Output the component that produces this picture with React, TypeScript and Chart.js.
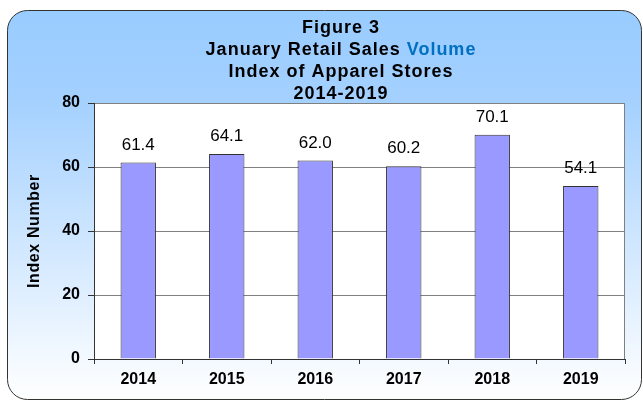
import React, { useEffect, useRef } from "react";
import { Chart, registerables } from "chart.js";

Chart.register(...registerables);

const categories = ["2014", "2015", "2016", "2017", "2018", "2019"];
const values = [61.4, 64.1, 62.0, 60.2, 70.1, 54.1];
const yMin = 0;
const yMax = 80;
const yStep = 20;
const yAxisTitle = "Index Number";
const titleLines: [string, string][][] = [
  [["Figure 3", "#000000"]],
  [["January Retail Sales ", "#000000"], ["Volume", "#0070C0"]],
  [["Index of Apparel Stores", "#000000"]],
  [["2014-2019", "#000000"]],
];

const FONT = "Arial, 'Liberation Sans', sans-serif";
const W = 643;
const H = 402;

const bgPlugin = {
  id: "bgPlugin",
  beforeDraw(chart: any) {
    const ctx = chart.ctx;
    const ca = chart.chartArea;
    ctx.save();
    const x0 = 7.5, y0 = 10.5, x1 = 641.5, y1 = 399.5, r = 20;
    const g = ctx.createLinearGradient(0, y0, 0, y1);
    g.addColorStop(0, "#99CCFF");
    g.addColorStop(0.22, "#A3D0FF");
    g.addColorStop(1, "#FFFFFF");
    ctx.beginPath();
    ctx.moveTo(x0 + r, y0);
    ctx.lineTo(x1 - r, y0);
    ctx.arcTo(x1, y0, x1, y0 + r, r);
    ctx.lineTo(x1, y1 - r);
    ctx.arcTo(x1, y1, x1 - r, y1, r);
    ctx.lineTo(x0 + r, y1);
    ctx.arcTo(x0, y1, x0, y1 - r, r);
    ctx.lineTo(x0, y0 + r);
    ctx.arcTo(x0, y0, x0 + r, y0, r);
    ctx.closePath();
    ctx.fillStyle = g;
    ctx.fill();
    ctx.lineWidth = 1;
    ctx.strokeStyle = "#333333";
    ctx.stroke();
    ctx.fillStyle = "#FFFFFF";
    ctx.fillRect(ca.left, ca.top, ca.right - ca.left, ca.bottom - ca.top);
    ctx.strokeStyle = "#808080";
    ctx.strokeRect(Math.round(ca.left) + 0.5, Math.round(ca.top) + 0.5, Math.round(ca.right - ca.left) - 1, Math.round(ca.bottom - ca.top));
    ctx.restore();
  },
  afterDraw(chart: any) {
    const ctx = chart.ctx;
    const ca = chart.chartArea;
    ctx.save();
    // title
    ctx.font = `bold 18px ${FONT}`;
    (ctx as any).letterSpacing = "1px";
    ctx.textBaseline = "middle";
    ctx.textAlign = "left";
    const cx = 341;
    const ys = [28, 50, 72, 94];
    titleLines.forEach((segs, i) => {
      const total = segs.reduce((s, [t]) => s + ctx.measureText(t).width, 0);
      let x = cx - total / 2;
      segs.forEach(([t, c]) => {
        ctx.fillStyle = c;
        ctx.fillText(t, x, ys[i]);
        x += ctx.measureText(t).width;
      });
    });
    // y axis title
    (ctx as any).letterSpacing = "0.6px";
    ctx.translate(35, (ca.top + ca.bottom) / 2);
    ctx.rotate(-Math.PI / 2);
    ctx.textAlign = "center";
    ctx.font = `bold 16px ${FONT}`;
    ctx.fillStyle = "#000000";
    ctx.fillText(yAxisTitle, 0, 0);
    ctx.restore();
  },
};

const labelPlugin = {
  id: "labelPlugin",
  afterDatasetsDraw(chart: any) {
    const ctx = chart.ctx;
    const meta = chart.getDatasetMeta(0);
    ctx.save();
    ctx.font = `17px ${FONT}`;
    ctx.fillStyle = "#000000";
    ctx.textAlign = "center";
    ctx.textBaseline = "alphabetic";
    meta.data.forEach((bar: any, i: number) => {
      ctx.fillText(values[i].toFixed(1), bar.x, bar.y - 13);
    });
    ctx.restore();
  },
};

export default function App() {
  const ref = useRef<HTMLCanvasElement | null>(null);
  useEffect(() => {
    if (!ref.current) return;
    const chart = new Chart(ref.current, {
      type: "bar",
      data: {
        labels: categories,
        datasets: [
          {
            data: values,
            backgroundColor: "#9999FF",
            borderColor: "#333333",
            borderWidth: 1,
            categoryPercentage: 1,
            barPercentage: 0.4,
          },
        ],
      },
      options: {
        responsive: false,
        animation: false,
        layout: { padding: { top: 103, right: 18, left: 0, bottom: 0 } },
        plugins: { legend: { display: false }, tooltip: { enabled: false }, title: { display: false } },
        scales: {
          x: {
            grid: { display: true, drawOnChartArea: false, tickLength: 5, tickColor: "#333333", offset: true },
            border: { color: "#333333" },
            ticks: { font: { family: FONT, size: 16, weight: "bold" }, color: "#000000", padding: 6 },
            afterFit: (s: any) => { s.height = 43; },
          },
          y: {
            min: yMin,
            max: yMax,
            grid: { color: "#808080", tickColor: "#333333", tickLength: 6 },
            border: { color: "#333333" },
            ticks: { stepSize: yStep, font: { family: FONT, size: 16, weight: "bold" }, color: "#000000", padding: 8 },
            afterFit: (s: any) => { s.width = 94; },
          },
        },
      },
      plugins: [bgPlugin, labelPlugin],
    });
    return () => chart.destroy();
  }, []);
  return (
    <div style={{ position: "fixed", left: 0, top: 0, width: W, height: H, background: "#FFFFFF" }}>
      <canvas ref={ref} width={W} height={H} style={{ width: W, height: H, display: "block" }} />
    </div>
  );
}
